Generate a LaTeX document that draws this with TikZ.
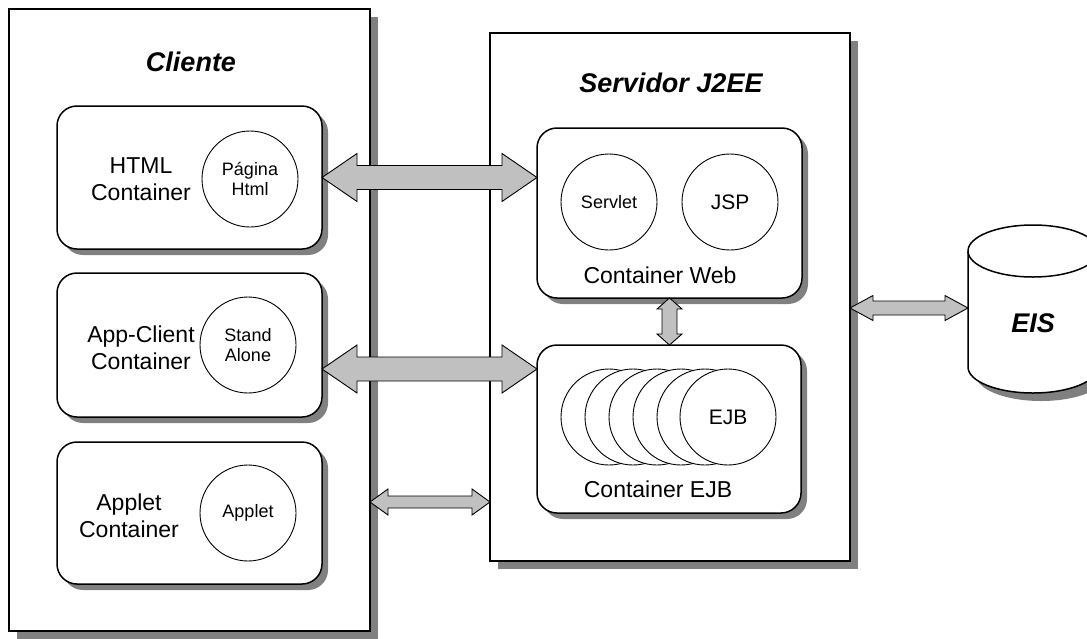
\documentclass[tikz,border=0pt]{standalone}
\usepackage{fontspec}
\setmainfont{Liberation Sans}
\usetikzlibrary{calc,shadows}
\definecolor{shadowgray}{RGB}{128,128,128}
\definecolor{arrowgray}{RGB}{192,192,192}
\tikzset{
 every node/.style={inner sep=0pt, outer sep=0pt},
 bigbox/.style={draw, line width=2pt, fill=white, drop shadow={shadow xshift=8pt, shadow yshift=-8pt, fill=shadowgray, opacity=1}},
 cbox/.style={draw, line width=1.5pt, fill=white, rounded corners=20pt, drop shadow={shadow xshift=6pt, shadow yshift=-6pt, fill=shadowgray, opacity=1}},
 comp/.style={draw, circle, line width=0.9pt, fill=white, minimum size=96pt},
 barrow/.style={draw, line width=0.9pt, fill=arrowgray, line join=miter},
 titletext/.style={font=\fontsize{27}{32}\selectfont\bfseries\itshape},
 ctext/.style={font=\fontsize{23}{27}\selectfont, align=center},
 stext/.style={font=\fontsize{18}{20}\selectfont, align=center},
 mtext/.style={font=\fontsize{21}{25}\selectfont},
 cyl/.style={line width=1.5pt},
}
\newcommand\blockh[5]{%
 \draw[barrow] (#1) -- ($(#1)+(#5,-#4)$) -- ($(#1)+(#5,-#3)$) -- ($(#2)+(-#5,-#3)$) -- ($(#2)+(-#5,-#4)$) -- (#2) -- ($(#2)+(-#5,#4)$) -- ($(#2)+(-#5,#3)$) -- ($(#1)+(#5,#3)$) -- ($(#1)+(#5,#4)$) -- cycle;}
\newcommand\blockv[5]{%
 \draw[barrow] (#1) -- ($(#1)+(-#4,#5)$) -- ($(#1)+(-#3,#5)$) -- ($(#2)+(-#3,-#5)$) -- ($(#2)+(-#4,-#5)$) -- (#2) -- ($(#2)+(#4,-#5)$) -- ($(#2)+(#3,-#5)$) -- ($(#1)+(#3,#5)$) -- ($(#1)+(#4,#5)$) -- cycle;}
\begin{document}
\begin{tikzpicture}[x=1pt,y=-1pt]
\path[use as bounding box] (0,0) rectangle (1087,638);
\clip (0,0) rectangle (1087,638);
\fill[white] (0,0) rectangle (1087,638);
% main boxes
\node[bigbox, minimum width=361pt, minimum height=622pt] (cliente) at (189.5,320) {};
\node[bigbox, minimum width=360pt, minimum height=528pt] (servidor) at (670,297) {};
\node[titletext] (tcliente) at (191,62) {Cliente};
\node[titletext] (tserv) at (671,83) {Servidor J2EE};
% client containers
\node[cbox, minimum width=265pt, minimum height=143pt] (html) at (189.5,177.5) {};
\node[cbox, minimum width=265pt, minimum height=144pt] (app) at (189.5,345) {};
\node[cbox, minimum width=265pt, minimum height=142pt] (applet) at (189.5,513) {};
\node[ctext] (thtml) at (141,179) {HTML\\Container};
\node[ctext] (tapp) at (141,348) {App-Client\\Container};
\node[ctext] (tapplet) at (129,516) {Applet\\Container};
\node[comp, stext] (pagina) at (250,179) {Página\\Html};
\node[comp, stext] (stand) at (248,345) {Stand\\Alone};
\node[comp, stext] (appletc) at (248,513) {Applet};
% server containers
\node[cbox, minimum width=265pt, minimum height=170pt] (web) at (669.5,213) {};
\node[cbox, minimum width=264pt, minimum height=168pt] (ejb) at (669,429) {};
\node[comp, stext] (servlet) at (609,202) {Servlet};
\node[comp, mtext] (jsp) at (730,202) {JSP};
\node[ctext] (tweb) at (660,275) {Container Web};
\foreach \i/\x in {1/609,2/633,3/657,4/681,5/705}
  \node[comp] (ejbc\i) at (\x,417) {};
\node[comp, mtext] (ejbc6) at (728,417) {EJB};
\node[ctext] (tejb) at (658,489) {Container EJB};
% EIS cylinder
\fill[shadowgray] (976,259) -- (976,375) arc[start angle=180,end angle=360,x radius=65pt,y radius=26pt] -- (1106,259) arc[start angle=0,end angle=180,x radius=65pt,y radius=26pt] -- cycle;
\draw[cyl, fill=white] (968,251) -- (968,367) arc[start angle=180,end angle=360,x radius=65pt,y radius=26pt] -- (1098,251) arc[start angle=0,end angle=180,x radius=65pt,y radius=26pt] -- cycle;
\draw[cyl] (968,251) arc[start angle=180,end angle=360,x radius=65pt,y radius=26pt];
\node[titletext, minimum width=130pt, minimum height=116pt] (eis) at (1033,323) {EIS};
% connectors
\coordinate (a1a) at (html.east);
\coordinate (a1b) at (web.west |- html.east);
\blockh{a1a}{a1b}{12}{24}{35}
\coordinate (a2a) at ($(app.east)+(0,24)$);
\coordinate (a2b) at (ejb.west |- a2a);
\blockh{a2a}{a2b}{12}{24}{35}
\coordinate (a3a) at ($(cliente.east |- applet.east)+(0,-11)$);
\coordinate (a3b) at (servidor.west |- a3a);
\blockh{a3a}{a3b}{6}{13}{18}
\coordinate (a4a) at (web.south);
\coordinate (a4b) at (ejb.north -| web.south);
\blockv{a4a}{a4b}{7.5}{12.5}{11}
\coordinate (a5a) at ($(servidor.east)+(0,11)$);
\coordinate (a5b) at (eis.west |- a5a);
\blockh{a5a}{a5b}{7}{12.5}{23}
\end{tikzpicture}
\end{document}
